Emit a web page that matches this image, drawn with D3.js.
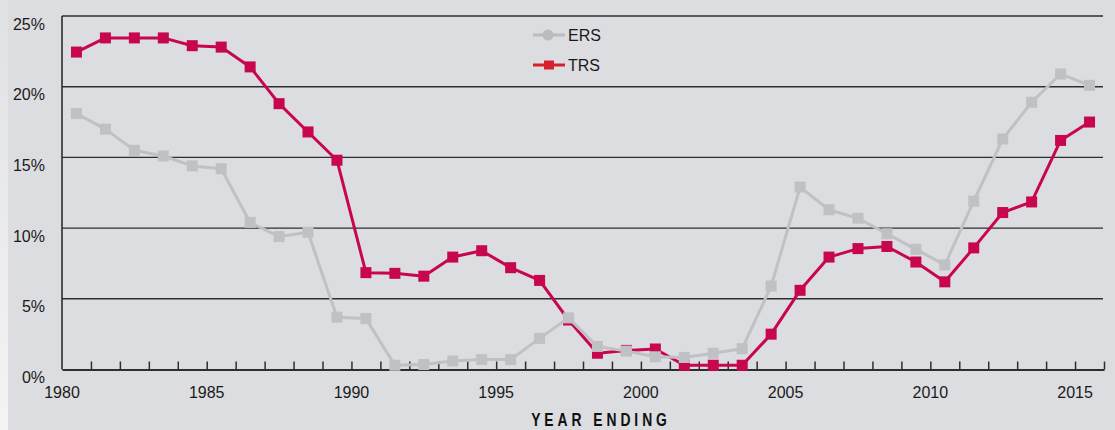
<!DOCTYPE html>
<html>
<head>
<meta charset="utf-8">
<script src="https://cdn.jsdelivr.net/npm/d3@7"></script>
<style>
  html, body { margin: 0; padding: 0; background: #dcdde0; }
  svg { display: block; }
  text { font-family: "Liberation Sans", Arial, Helvetica, sans-serif; fill: #1a1a1a; }
</style>
</head>
<body>
<svg id="chart" width="1115" height="430"></svg>
<script>
// ---- data ----
const years = d3.range(1980, 2016); // year ending 1980..2015
const ersValues = [18.1, 17.0, 15.5, 15.1, 14.4, 14.2, 10.4, 9.4, 9.7, 3.7,
                   3.6, 0.3, 0.35, 0.6, 0.7, 0.7, 2.2, 3.65, 1.63, 1.3,
                   0.9, 0.85, 1.15, 1.47, 5.9, 12.9, 11.3, 10.7, 9.6, 8.5,
                   7.4, 11.9, 16.3, 18.9, 20.9, 20.1];
const trsValues = [22.45, 23.45, 23.45, 23.45, 22.9, 22.8, 21.4, 18.8, 16.8, 14.8,
                   6.85, 6.8, 6.6, 7.95, 8.4, 7.2, 6.3, 3.5, 1.15, 1.35,
                   1.45, 0.3, 0.3, 0.3, 2.5, 5.6, 7.95, 8.55, 8.7, 7.6,
                   6.2, 8.6, 11.1, 11.85, 16.2, 17.5];
const yTicks = [0, 5, 10, 15, 20, 25];
const xLabelYears = [1980, 1985, 1990, 1995, 2000, 2005, 2010, 2015];
const seriesNames = ["ERS", "TRS"];

// ---- layout ----
const svg = d3.select("#chart");
const W = 1115, H = 430;
const x = d3.scaleLinear().domain([1980, 2016]).range([62, 1104]);
const y = d3.scaleLinear().domain([0, 25]).range([369.5, 16]);

const GRAY = "#c0c1c4";
const RED = "#c8064e";

// background + light left strip
const defs = svg.append("defs");
const grad = defs.append("linearGradient").attr("id", "strip").attr("x1", 0).attr("y1", 0).attr("x2", 0).attr("y2", 1);
grad.append("stop").attr("offset", "0%").attr("stop-color", "#e0e1e3");
grad.append("stop").attr("offset", "100%").attr("stop-color", "#f4f4f5");
svg.append("rect").attr("width", W).attr("height", H).attr("fill", "#dcdde0");
svg.append("rect").attr("x", 0).attr("y", 0).attr("width", 8).attr("height", H).attr("fill", "url(#strip)");

// gridlines
svg.append("g").selectAll("line").data(yTicks.filter(d => d > 0)).join("line")
  .attr("x1", x(1980)).attr("x2", 1103)
  .attr("y1", d => y(d)).attr("y2", d => y(d))
  .attr("stroke", "#2e2e30").attr("stroke-width", 1.4);

// y labels
svg.append("g").selectAll("text").data(yTicks).join("text")
  .attr("x", 45).attr("y", d => y(d) + 13.5)
  .attr("text-anchor", "end").attr("font-size", 16)
  .text(d => d + "%");

// y axis line
svg.append("line").attr("x1", x(1980)).attr("x2", x(1980))
  .attr("y1", y(25)).attr("y2", y(0)).attr("stroke", "#2e2e30").attr("stroke-width", 1.6);

// x axis via d3.axisBottom with inward ticks
const xAxis = d3.axisBottom(x)
  .tickValues(d3.range(1981, 2017))
  .tickSize(-8).tickSizeOuter(0).tickFormat("");
const gx = svg.append("g").attr("transform", `translate(0,${y(0)})`).call(xAxis);
gx.select(".domain").attr("stroke", "#2e2e30").attr("stroke-width", 2);
gx.selectAll(".tick line").attr("stroke", "#2e2e30").attr("stroke-width", 1.5);

svg.append("g").selectAll("text").data(xLabelYears).join("text")
  .attr("x", d => x(d)).attr("y", 398)
  .attr("text-anchor", "middle").attr("font-size", 16)
  .text(d => d);

// axis title (condensed bold)
svg.append("g").attr("transform", "translate(601,425.5) scale(0.73,1)")
  .append("text").attr("text-anchor", "middle")
  .attr("font-size", 19).attr("font-weight", "bold")
  .attr("letter-spacing", 5.4)
  .style("fill", "#111")
  .text("YEAR ENDING");

// series
const line = d3.line().x((d, i) => x(years[i] + 0.5)).y(d => y(d));
function drawSeries(vals, color) {
  const g = svg.append("g");
  g.append("path").datum(vals).attr("d", line)
    .attr("fill", "none").attr("stroke", color).attr("stroke-width", 3)
    .attr("stroke-linejoin", "round");
  const s = 11;
  g.selectAll("rect").data(vals).join("rect")
    .attr("x", (d, i) => x(years[i] + 0.5) - s / 2)
    .attr("y", d => y(d) - s / 2)
    .attr("width", s).attr("height", s)
    .attr("fill", color);
}
drawSeries(trsValues, RED);
drawSeries(ersValues, GRAY);

// legend
const lg = svg.append("g");
lg.append("line").attr("x1", 533).attr("x2", 565).attr("y1", 35).attr("y2", 35)
  .attr("stroke", "#bbbcbe").attr("stroke-width", 3);
lg.append("circle").attr("cx", 548).attr("cy", 35).attr("r", 5.5).attr("fill", "#bbbcbe");
lg.append("text").attr("x", 568).attr("y", 41).attr("font-size", 16).text(seriesNames[0]);
lg.append("line").attr("x1", 533).attr("x2", 565).attr("y1", 65).attr("y2", 65)
  .attr("stroke", "#d7202e").attr("stroke-width", 3);
lg.append("rect").attr("x", 544).attr("y", 60.5).attr("width", 10).attr("height", 9).attr("fill", "#d7202e");
lg.append("text").attr("x", 568).attr("y", 71).attr("font-size", 16).text(seriesNames[1]);
</script>
</body>
</html>
